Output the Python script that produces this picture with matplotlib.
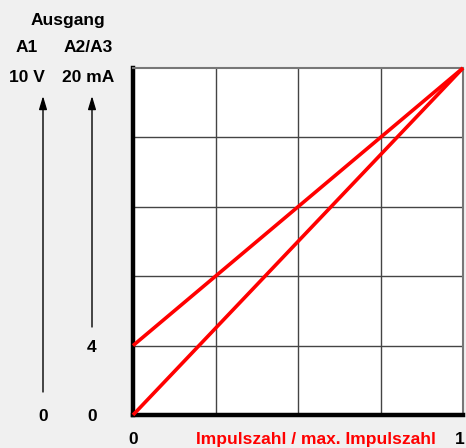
import matplotlib.pyplot as plt
from matplotlib.patches import FancyArrowPatch
from matplotlib.transforms import blended_transform_factory

# data
x_vals = [0, 1]
line_a1 = [0, 1]        # 0..10 V
line_a2 = [0.2, 1]      # 4..20 mA
x_grid = [0, 0.25, 0.5, 0.75, 1]
y_grid = [0, 0.2, 0.4, 0.6, 0.8, 1]
x_ticklabels = ['0', '1']
a1_labels = ['0']
a2_labels = ['0', '4']

W, H = 466, 448
BG = '#f0f0f0'
FONT = ['Liberation Sans Narrow', 'Liberation Sans', 'DejaVu Sans']


def fx(px):
    return px / W


def fy(py):
    return 1 - py / H


def main():
    fig = plt.figure(figsize=(W / 100, H / 100), dpi=100)
    fig.set_facecolor(BG)

    ax = fig.add_axes([fx(133), fy(415), fx(463) - fx(133), fy(68) - fy(415)])
    ax.set_facecolor('white')
    ax.set_xlim(0, 1)
    ax.set_ylim(0, 1)

    for g in x_grid[1:-1]:
        ax.axvline(g, color='#444444', lw=1.0, zorder=1)
    for g in y_grid[1:-1]:
        ax.axhline(g, color='#444444', lw=1.0, zorder=1)

    ax.plot(x_vals, line_a1, color='#ff0000', lw=2.6, zorder=3,
            solid_capstyle='butt', clip_on=False)
    ax.plot(x_vals, line_a2, color='#ff0000', lw=2.6, zorder=3,
            solid_capstyle='butt', clip_on=False)

    ax.spines['left'].set_linewidth(3.2)
    ax.spines['bottom'].set_linewidth(3.2)
    ax.spines['left'].set_color('black')
    ax.spines['bottom'].set_color('black')
    ax.spines['top'].set_color('#777777')
    ax.spines['right'].set_color('#777777')
    ax.spines['top'].set_linewidth(1.5)
    ax.spines['right'].set_linewidth(1.5)
    ax.set_xticks([])
    ax.set_yticks([])

    txt = dict(fontsize=12.5, fontweight='bold', family=FONT,
               ha='center', va='center')

    # x tick labels
    xt = blended_transform_factory(ax.transData, fig.transFigure)
    fig.text(0, fy(439), x_ticklabels[0], transform=xt, **txt)
    fig.text(0.99, fy(439), x_ticklabels[1], transform=xt, **txt)
    fig.text(fx(316), fy(439), 'Impulszahl / max. Impulszahl',
             color='#ff0000', **txt)

    # left side labels
    yt = blended_transform_factory(fig.transFigure, ax.transData)
    fig.text(fx(43), -0.005, a1_labels[0], transform=yt, **txt)
    fig.text(fx(92), -0.005, a2_labels[0], transform=yt, **txt)
    fig.text(fx(92), 0.195, a2_labels[1], transform=yt, **txt)

    fig.text(fx(68), fy(20), 'Ausgang', **txt)
    fig.text(fx(27), fy(48), 'A1', **txt)
    fig.text(fx(88), fy(48), 'A2/A3', **txt)
    fig.text(fx(27), fy(77), '10 V', **txt)
    fig.text(fx(88), fy(77), '20 mA', **txt)

    arrow = dict(arrowstyle='-|>,head_length=1.0,head_width=0.3',
                 mutation_scale=8, color='black', lw=1.0,
                 shrinkA=0, shrinkB=0, transform=fig.transFigure)
    fig.add_artist(FancyArrowPatch((fx(43), fy(392)), (fx(43), fy(96)), **arrow))
    fig.add_artist(FancyArrowPatch((fx(92), fy(327)), (fx(92), fy(96)), **arrow))

    fig.savefig('out.png', dpi=100, facecolor=BG)


main()
